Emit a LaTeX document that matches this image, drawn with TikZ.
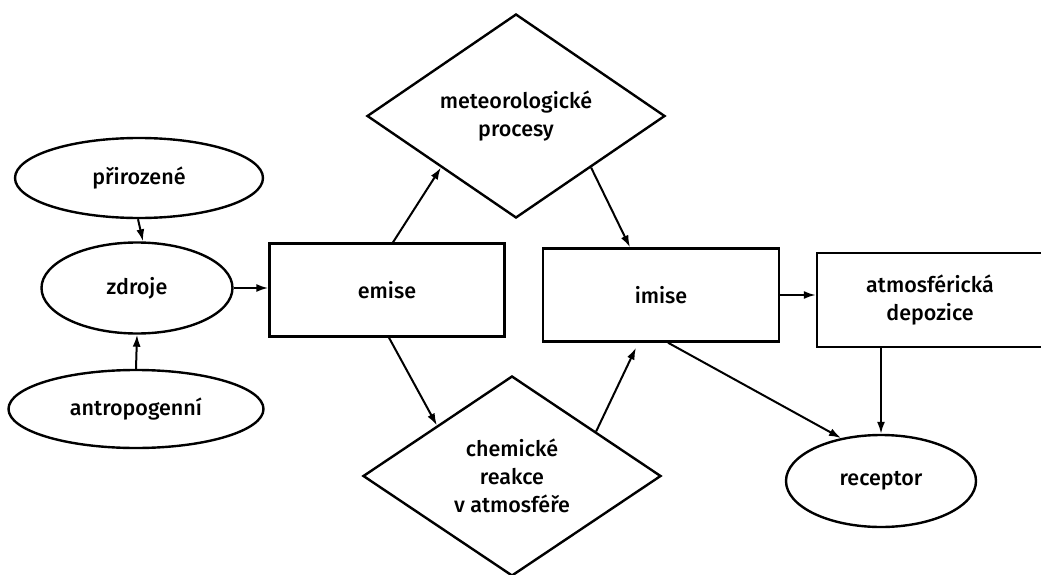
\documentclass[tikz,border=0pt]{standalone}
\usepackage{fontspec}
\setmainfont{Fira Sans}
\newfontfamily\labelfont{Fira Sans}[UprightFont={* Medium}]
\usetikzlibrary{shapes.geometric,arrows.meta,calc}
\begin{document}
\begin{tikzpicture}[x=1pt,y=-1pt,
  txt/.style={align=center,font=\labelfont\fontsize{21.5}{28}\selectfont,inner sep=0pt},
  box/.style={txt,draw,line width=2.4pt,rectangle},
  ell/.style={txt,draw,line width=2.4pt,ellipse},
  dia/.style={txt,draw,line width=2.4pt,diamond},
  arr/.style={line width=2pt,-{Latex[length=12pt,width=8pt]}}]
\useasboundingbox (0,0) rectangle (1041,575);
\clip (0,0) rectangle (1041,575);
\fill[white] (0,0) rectangle (1041,575);

\node[ell,minimum width=248pt,minimum height=80pt] (prir) at (139,178) {přirozené};
\node[ell,minimum width=191pt,minimum height=91pt] (zdroje) at (137,288) {zdroje};
\node[ell,minimum width=255pt,minimum height=78pt] (antro) at (136,409) {antropogenní};
\node[box,minimum width=235pt,minimum height=93pt] (emise) at (387,290) {emise};
\node[box,minimum width=236pt,minimum height=93pt] (imise) at (661,295) {imise};
\node[box,minimum width=226pt,minimum height=94pt] (atmos) at (930,300) {atmosférická\\depozice};
\node[ell,minimum width=190pt,minimum height=92pt] (receptor) at (881,481) {receptor};
\node[dia,minimum width=298pt,minimum height=204pt] (meteo) at (516,116) {meteorologické\\procesy};
\node[dia,minimum width=298pt,minimum height=200pt] (chem) at (512,476) {chemické\\reakce\\v atmosféře};

\draw[arr] ($(prir.south)+(-1,0)$) -- ($(zdroje.north)+(6,0)$);
\draw[arr] (antro.north) -- (zdroje.south);
\draw[arr] (zdroje.east) -- (zdroje.east -| emise.west);
\draw[arr] ($(emise.north)+(6,0)$) -- (meteo.south west);
\draw[arr] (meteo.south east) -- ($(imise.north)+(-31,0)$);
\draw[arr] ($(emise.south)+(2,0)$) -- (chem.north west);
\draw[arr] ($(chem.north)!0.56!(chem.east)$) -- ($(imise.south)+(-25,5)$);
\draw[arr] ($(imise.south)+(7,0)$) -- (receptor.133);
\draw[arr] (imise.east) -- (imise.east -| atmos.west);
\draw[arr] (receptor.north |- atmos.south) -- (receptor.north);
\end{tikzpicture}
\end{document}
